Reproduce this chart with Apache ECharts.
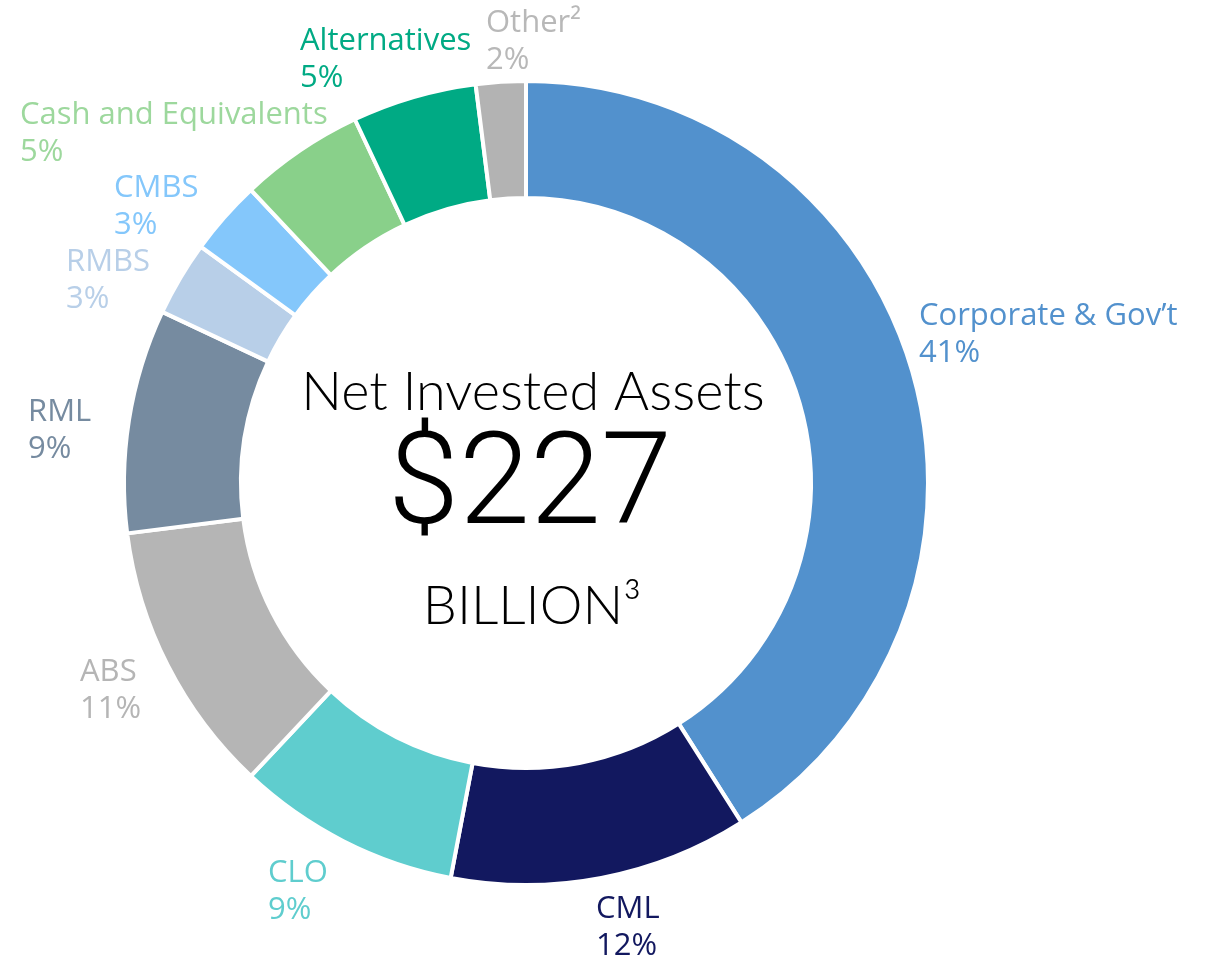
<!DOCTYPE html>
<html>
<head>
<meta charset="utf-8">
<script src="https://cdn.jsdelivr.net/npm/echarts@6/dist/echarts.min.js"></script>
<style>
html,body{margin:0;padding:0;background:#fff;}
#main{width:1216px;height:958px;}
</style>
</head>
<body>
<div id="main"></div>
<script>
// Data
const categories = ['Corporate & Gov\u2019t', 'CML', 'CLO', 'ABS', 'RML', 'RMBS', 'CMBS', 'Cash and Equivalents', 'Alternatives', 'Other\u00B2'];
const shares = [41, 12, 9, 11, 9, 3, 3, 5, 5, 2];
const centerTitle = 'Net Invested Assets';
const centerValue = '$227';
const centerUnit = 'BILLION\u00B3';

// Styles
const colors = ['#5291CD', '#12185F', '#5FCDCE', '#B5B5B5', '#768BA0', '#B8CFE8', '#84C7FB', '#89D08A', '#00AA84', '#B3B3B3'];
const labelColors = ['#5291CD', '#12185F', '#5FCDCE', '#B5B5B5', '#768BA0', '#B8CFE8', '#84C7FB', '#9DD89D', '#00AA84', '#B8B8B8'];
// label block top-left anchors (text placement only)
const labelAnchors = [
  [919, 298], [596, 891], [268, 855], [80, 654], [28, 394],
  [66, 244], [114, 170], [20, 97], [300, 23], [486, 5]
];
const LABEL_FONT = '"Open Sans", Lato, sans-serif';
const CENTER_FONT = 'Lato, sans-serif';
const VALUE_FONT = 'Roboto, Lato, sans-serif';
const CX = 526, CY = 483;

const chart = echarts.init(document.getElementById('main'));
chart.setOption({
  backgroundColor: '#ffffff',
  animation: false,
  graphic: [
    { type: 'text', x: 533, y: 393, style: { text: centerTitle, font: '300 54px ' + CENTER_FONT, fill: '#000', align: 'center', verticalAlign: 'middle' } },
    { type: 'text', x: 530, y: 491, style: { text: centerValue, font: '300 128px ' + VALUE_FONT, fill: '#000', align: 'center', verticalAlign: 'middle' } },
    { type: 'text', x: 532, y: 607, style: { text: centerUnit, font: '300 54px ' + CENTER_FONT, fill: '#000', align: 'center', verticalAlign: 'middle' } }
  ],
  series: [{
    type: 'pie',
    center: [CX, CY],
    radius: [285, 402],
    startAngle: 90,
    clockwise: true,
    avoidLabelOverlap: false,
    itemStyle: { borderColor: '#ffffff', borderWidth: 4 },
    label: {
      show: true,
      position: 'outside',
      formatter: p => p.name + '\n' + p.value + '%',
      fontFamily: LABEL_FONT,
      fontWeight: 500,
      fontSize: 31,
      lineHeight: 37,
      align: 'left'
    },
    labelLine: { show: false },
    labelLayout: p => ({
      x: labelAnchors[p.dataIndex][0],
      y: labelAnchors[p.dataIndex][1],
      align: 'left',
      verticalAlign: 'top'
    }),
    emphasis: { disabled: true },
    data: categories.map((c, i) => ({
      name: c,
      value: shares[i],
      itemStyle: { color: colors[i] },
      label: { color: labelColors[i] }
    }))
  }]
});
</script>
</body>
</html>
